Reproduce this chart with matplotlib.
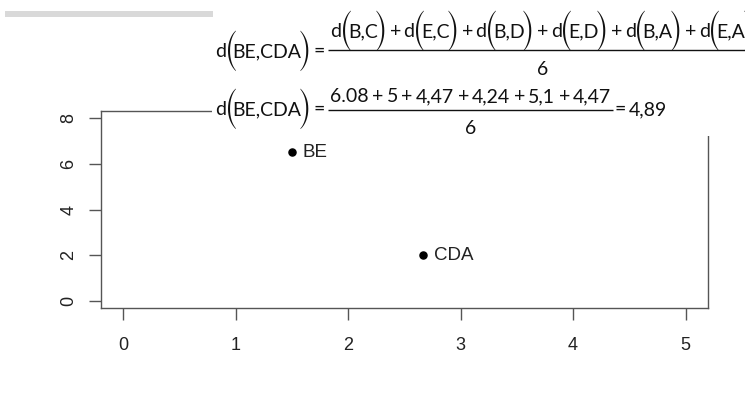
import matplotlib
matplotlib.use("Agg")
import matplotlib.pyplot as plt
from matplotlib.patches import Rectangle

# Cluster centroids after merging: BE and CDA
clusters = ["BE", "CDA"]
centroid_x = [1.5, 8 / 3]
centroid_y = [6.5, 2.0]

x_ticks = [0, 1, 2, 3, 4, 5]
y_ticks = [0, 2, 4, 6, 8]

# Average linkage between BE and CDA
pairs = ["B,C", "E,C", "B,D", "E,D", "B,A", "E,A"]
pair_dist = ["6.08", "5", "4,47", "4,24", "5,1", "4,47"]
n_pairs = "6"
avg_dist = "4,89"

plt.rcParams["font.family"] = ["Liberation Sans", "DejaVu Sans"]

W, H = 745, 419
fig = plt.figure(figsize=(W / 100, H / 100), dpi=100)
fig.patch.set_facecolor("white")

# --- scatter of the two clusters (base-R look) ---
L, R_, T, B = 101, 708, 111, 308
ax = fig.add_axes([L / W, 1 - B / H, (R_ - L) / W, (B - T) / H])
ax.set_xlim(-0.2, 5.2)
ax.set_ylim(-0.32, 8.32)
for sp in ax.spines.values():
    sp.set_color("#555555")
    sp.set_linewidth(1.0)
ax.set_xticks(x_ticks)
ax.set_yticks(y_ticks)
ax.tick_params(axis="both", direction="out", length=8.6, width=1.0,
               color="#555555", labelsize=13, labelcolor="#222222")
ax.tick_params(axis="x", pad=12.5)
ax.tick_params(axis="y", pad=8.5, labelrotation=90)
for lab in ax.get_yticklabels():
    lab.set_verticalalignment("center")

ax.scatter(centroid_x, centroid_y, s=26, color="black", zorder=3)
for name, x, y in zip(clusters, centroid_x, centroid_y):
    ax.annotate(name, (x, y), xytext=(7.5, 0), textcoords="offset points",
                ha="left", va="center", fontsize=13.5, color="#222222")

# --- formula panel laid over the top of the plot ---
ov = fig.add_axes([0, 0, 1, 1], zorder=5)
ov.set_xlim(0, W)
ov.set_ylim(H, 0)
ov.axis("off")
ov.patch.set_alpha(0)

ov.add_patch(Rectangle((212, 0), W - 212, 136, facecolor="white",
                       edgecolor="none"))
ov.add_patch(Rectangle((5, 11), 208, 6, facecolor="#d9d9d9",
                       edgecolor="none"))

FORM = dict(family=["Lato", "DejaVu Sans"], fontsize=14, color="#111111")
PAREN = dict(family="STIXSizeTwoSym", fontsize=15.5, color="#111111")
PAREN_RISE = 6.0

rend = fig.canvas.get_renderer()


def width(t):
    return t.get_window_extent(rend).width


def place(tokens, x, base, op_gap=2.5):
    # horizontal spacing between consecutive pieces (t=text, o=operator,
    # po/pc=opening/closing parenthesis)
    gaps = {("t", "po"): -1.5, ("po", "t"): -4.5, ("t", "pc"): -4.0,
            ("pc", "o"): op_gap + 0.5, ("o", "t"): op_gap,
            ("t", "o"): op_gap}
    start = x
    prev = None
    for kind, s in tokens:
        x += gaps.get((prev, kind), 0.5) if prev else 0.0
        if kind in ("po", "pc"):
            t = ov.text(x, base - PAREN_RISE, s, ha="left", va="center",
                        **PAREN)
        else:
            t = ov.text(x, base, s, ha="left", va="baseline", **FORM)
        x += width(t)
        prev = kind
    return x - start


def dist(label):
    return [("t", "d"), ("po", "("), ("t", label), ("pc", ")")]


def joined(parts):
    out = []
    for i, p in enumerate(parts):
        if i:
            out.append(("o", "+"))
        out.extend(p)
    return out


def fraction(num_tokens, den, x0, bar_y, num_base, den_base, op_gap=2.5):
    w = place(num_tokens, x0 + 2, num_base, op_gap)
    x1 = x0 + w + 4
    ov.plot([x0, x1], [bar_y, bar_y], color="#111111", lw=1.0,
            solid_capstyle="butt")
    ov.text((x0 + x1) / 2, den_base, den, ha="center", va="baseline", **FORM)
    return x1


lhs = dist("BE,CDA") + [("o", "=")]

# first line: definition
w = place(lhs, 215, 57)
fraction(joined([dist(p) for p in pairs]), n_pairs, 215 + w + 3, 50, 37, 75)

# second line: numbers
w = place(lhs, 215, 115)
x_end = fraction(joined([[("t", d)] for d in pair_dist]), n_pairs,
                 215 + w + 3, 110, 102, 134, op_gap=3.3)
place([("o", "="), ("t", avg_dist)], x_end + 1, 115, op_gap=3.0)

fig.savefig("out.png", dpi=100, facecolor="white")
